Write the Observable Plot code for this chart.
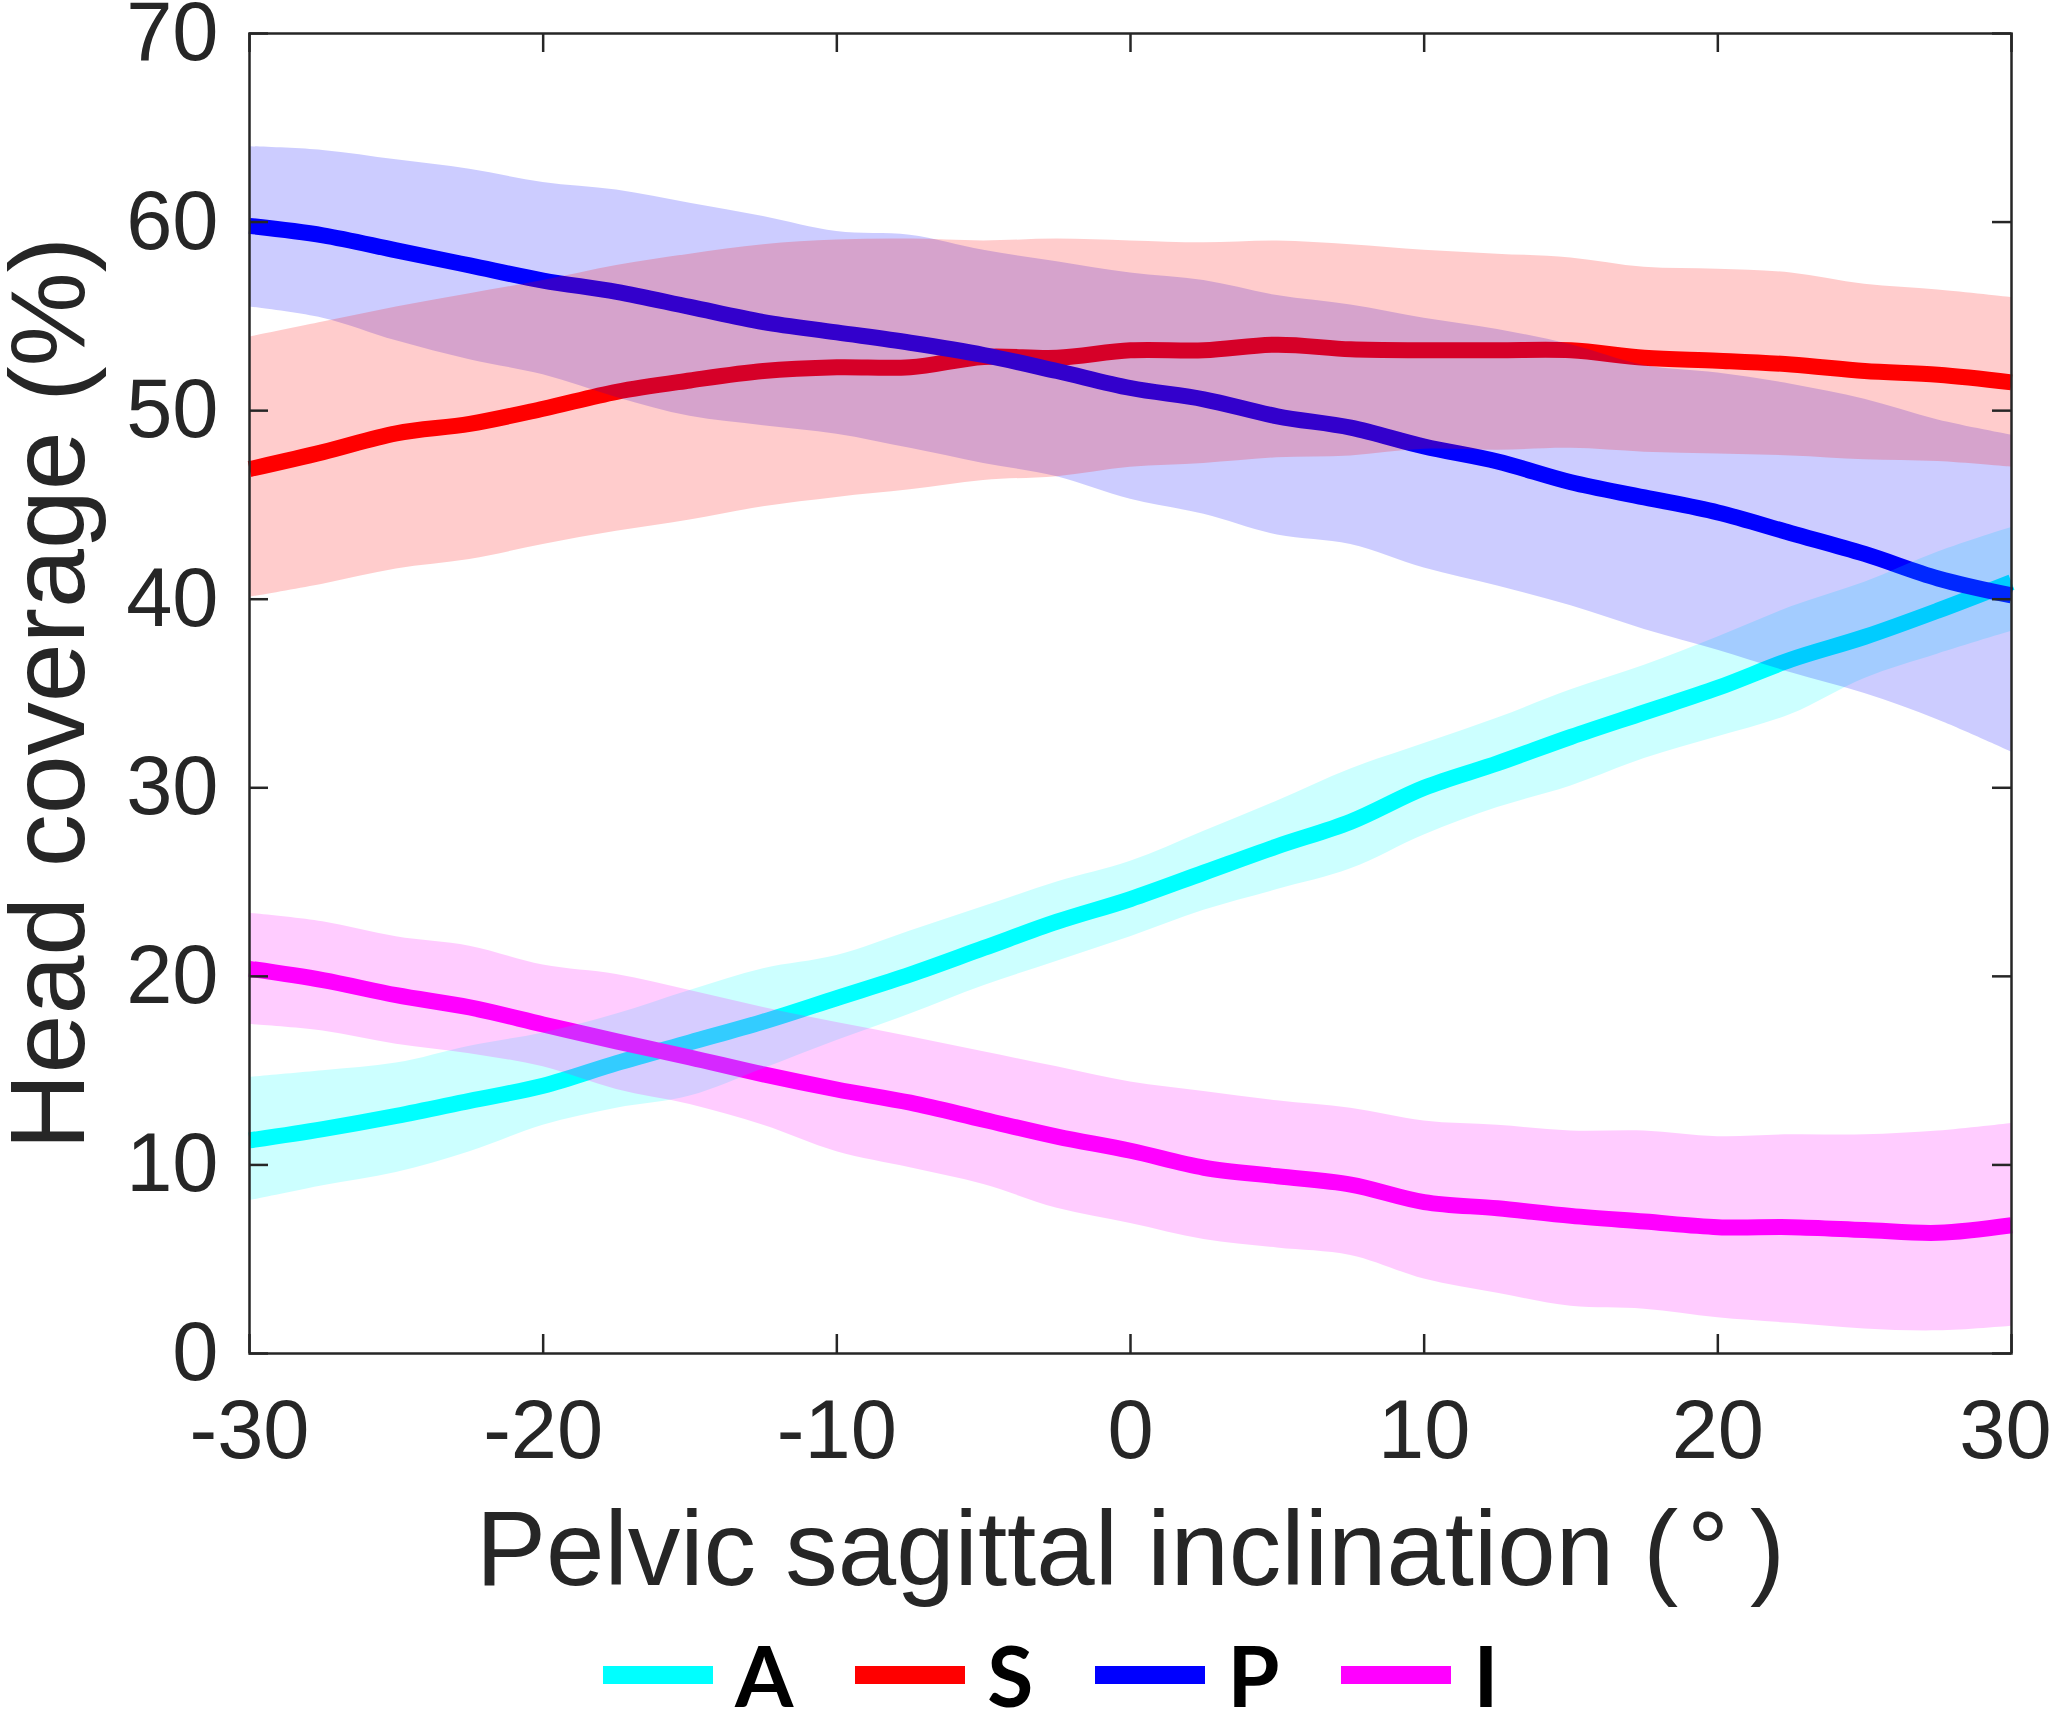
<!DOCTYPE html>
<html>
<head>
<meta charset="utf-8">
<script src="https://cdn.jsdelivr.net/npm/d3@7"></script>
<script src="https://cdn.jsdelivr.net/npm/@observablehq/plot@0.6"></script>
<style>
  body { margin: 0; background: #fff; }
  #wrap { width: 2054px; }
  #wrap svg { overflow: visible; }
  #legend { width: 2054px; height: 112px; display: flex; align-items: center; padding-left: 603px; box-sizing: border-box; padding-top: 18px; }
  .item { display: flex; align-items: center; margin-right: 62px; }
  .sw { width: 110px; height: 18px; margin-right: 22px; }
  .lab { font-family: Lato, "Liberation Sans", Arial, sans-serif; font-weight: 700; font-size: 84px; line-height: 1; color: #000; }
</style>
</head>
<body>
<div id="wrap"></div>
<div id="legend"></div>
<script>
// ---- data ----
const xs = [-30,-27.5,-25,-22.5,-20,-17.5,-15,-12.5,-10,-7.5,-5,-2.5,0,2.5,5,7.5,10,12.5,15,17.5,20,22.5,25,27.5,30];

const seriesNames = ["A","S","P","I"];
const seriesColors = ["#00ffff","#ff0000","#0000ff","#ff00ff"];

const meanA = [11.3,11.9,12.6,13.4,14.2,15.4,16.5,17.6,18.85,20.1,21.5,22.9,24.1,25.5,26.9,28.2,30.0,31.3,32.7,34.0,35.3,36.8,38.0,39.4,40.9];
const upA   = [14.65,15.0,15.4,16.3,17.0,18.0,19.25,20.4,21.1,22.4,23.7,25.0,26.1,27.7,29.3,31.0,32.35,33.7,35.2,36.5,38.0,39.6,40.9,42.5,43.8];
const loA   = [8.1,8.9,9.6,10.7,12.1,13.0,13.65,15.1,16.6,18.0,19.5,20.8,22.1,23.5,24.6,25.7,27.5,28.95,30.1,31.55,32.7,33.9,35.8,37.1,38.3];

const meanS = [46.9,47.8,48.8,49.3,50.1,51.0,51.6,52.1,52.3,52.3,52.85,52.8,53.2,53.2,53.5,53.25,53.2,53.2,53.2,52.8,52.65,52.45,52.1,51.9,51.5];
const upS   = [53.9,54.7,55.5,56.2,56.9,57.7,58.3,58.8,59.05,59.1,59.0,59.1,59.0,58.9,59.0,58.8,58.5,58.3,58.1,57.6,57.5,57.3,56.7,56.4,56.0];
const loS   = [40.1,40.8,41.6,42.1,42.9,43.6,44.2,44.9,45.4,45.8,46.3,46.5,47.0,47.2,47.5,47.6,47.95,47.9,48.0,47.8,47.7,47.6,47.4,47.3,47.0];

const meanP = [59.8,59.3,58.5,57.7,56.9,56.3,55.5,54.7,54.15,53.6,52.95,52.1,51.2,50.6,49.7,49.1,48.1,47.3,46.2,45.4,44.6,43.5,42.4,41.1,40.2];
const upP   = [64.0,63.8,63.3,62.8,62.1,61.7,61.0,60.3,59.5,59.3,58.5,57.9,57.3,56.9,56.1,55.6,54.9,54.3,53.5,52.4,52.0,51.4,50.6,49.5,48.7];
const loP   = [55.5,54.9,53.7,52.7,51.9,50.7,49.7,49.2,48.75,48.0,47.2,46.5,45.3,44.5,43.4,42.9,41.65,40.7,39.65,38.4,37.3,36.1,35.0,33.6,31.9];

const meanI = [20.4,19.8,19.0,18.35,17.45,16.55,15.7,14.8,14.0,13.3,12.4,11.5,10.75,9.85,9.4,8.96,8.03,7.7,7.3,7.0,6.7,6.7,6.55,6.4,6.8];
const upI   = [23.35,22.9,22.1,21.6,20.6,20.1,19.25,18.35,17.55,16.8,16.0,15.2,14.4,13.9,13.4,13.0,12.33,12.1,11.8,11.8,11.5,11.6,11.6,11.8,12.2];
const loI   = [17.45,17.1,16.4,15.9,15.2,14.0,13.2,12.1,10.7,9.85,8.96,7.7,6.9,6.05,5.6,5.2,3.95,3.2,2.5,2.35,1.9,1.6,1.3,1.2,1.45];

const xTicks = [-30,-20,-10,0,10,20,30];
const xTickLabels = ["-30","-20","-10","0","10","20","30"];
const yTicks = [0,10,20,30,40,50,60,70];
const yTickLabels = ["0","10","20","30","40","50","60","70"];

const xLabel = "Pelvic sagittal inclination (\u200a°\u2009)";
const yLabel = "Head coverage (%)";

// ---- build tables ----
const means = [meanA, meanS, meanP, meanI];
const ups = [upA, upS, upP, upI];
const los = [loA, loS, loP, loI];
const tables = seriesNames.map((s, k) => xs.map((x, i) => ({s, x, y: means[k][i], hi: ups[k][i], lo: los[k][i]})));

// ---- layout ----
const W = 2054, H = 1610;
const mL = 249, mR = 43, mT = 33, mB = 257;
const innerW = W - mL - mR, innerH = H - mT - mB;
const tickLen = 19;
const axisColor = "#262626";

const lineMarks = tables.map((t, k) => Plot.line(t, {x: "x", y: "y", stroke: seriesColors[k], strokeWidth: 16, strokeLinejoin: "round", strokeLinecap: "butt", curve: "catmull-rom"}));
const fillOrder = [0, 2, 1, 3];
const areaMarks = fillOrder.map(k => Plot.areaY(tables[k], {x: "x", y1: "lo", y2: "hi", fill: seriesColors[k], fillOpacity: 0.2, curve: "catmull-rom"}));

const xFmt = d => xTickLabels[xTicks.indexOf(d)];
const yFmt = d => yTickLabels[yTicks.indexOf(d)];

const chart = Plot.plot({
  width: W, height: H,
  marginLeft: mL, marginRight: mR, marginTop: mT, marginBottom: mB,
  style: {fontFamily: "'Liberation Sans', Arial, sans-serif", background: "#fff", color: axisColor, overflow: "visible"},
  x: {domain: [-30, 30]},
  y: {domain: [0, 70]},
  marks: [
    ...lineMarks,
    ...areaMarks,
    Plot.frame({stroke: axisColor, strokeWidth: 2.5}),
    Plot.tickX(xTicks, {x: d => d, insetTop: innerH - tickLen, stroke: axisColor, strokeWidth: 2.5}),
    Plot.tickX(xTicks, {x: d => d, insetBottom: innerH - tickLen, stroke: axisColor, strokeWidth: 2.5}),
    Plot.tickY(yTicks, {y: d => d, insetRight: innerW - tickLen, stroke: axisColor, strokeWidth: 2.5}),
    Plot.tickY(yTicks, {y: d => d, insetLeft: innerW - tickLen, stroke: axisColor, strokeWidth: 2.5}),
    Plot.axisX(xTicks.slice(0, -1), {tickSize: 0, tickPadding: 46, fontSize: 83, label: null, tickFormat: xFmt, fill: axisColor}),
    Plot.axisX(xTicks.slice(-1), {tickSize: 0, tickPadding: 46, fontSize: 83, label: null, tickFormat: xFmt, fill: axisColor, dx: -6}),
    Plot.axisY(yTicks, {tickSize: 0, tickPadding: 31, fontSize: 83, label: null, tickFormat: yFmt, fill: axisColor}),
    Plot.text([xLabel], {text: d => d, frameAnchor: "bottom", dy: 198, fontSize: 105, textAnchor: "middle", lineAnchor: "middle", fill: axisColor}),
    Plot.text([yLabel], {text: d => d, frameAnchor: "left", dx: -199, rotate: -90, fontSize: 106, textAnchor: "middle", lineAnchor: "middle", fill: axisColor})
  ]
});
document.getElementById("wrap").appendChild(chart);

// ---- legend ----
const legend = document.getElementById("legend");
seriesNames.forEach((s, k) => {
  const item = document.createElement("div");
  item.className = "item";
  const sw = document.createElement("div");
  sw.className = "sw";
  sw.style.background = seriesColors[k];
  const lab = document.createElement("span");
  lab.className = "lab";
  lab.textContent = s;
  item.appendChild(sw);
  item.appendChild(lab);
  legend.appendChild(item);
});
</script>
</body>
</html>
